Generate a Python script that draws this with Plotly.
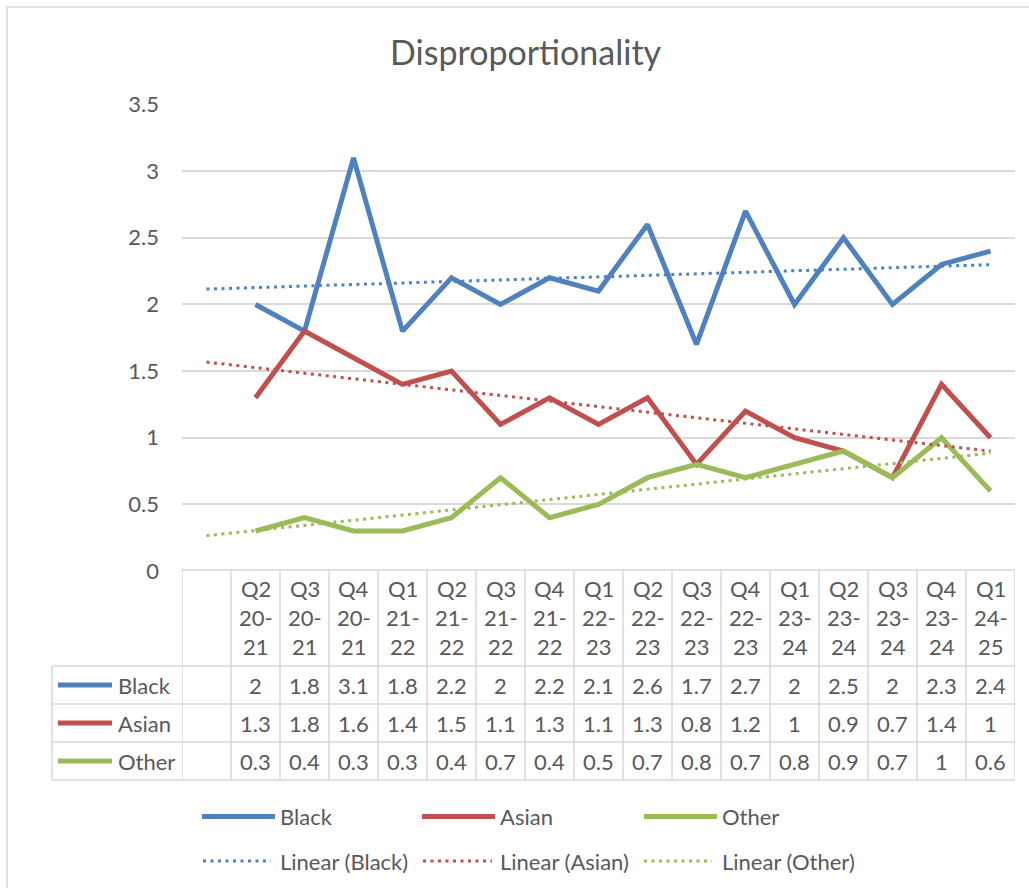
import numpy as np
import plotly.graph_objects as go

# ---------------- data ----------------
categories = ["", "Q2 20-21", "Q3 20-21", "Q4 20-21", "Q1 21-22", "Q2 21-22", "Q3 21-22",
              "Q4 21-22", "Q1 22-23", "Q2 22-23", "Q3 22-23", "Q4 22-23", "Q1 23-24",
              "Q2 23-24", "Q3 23-24", "Q4 23-24", "Q1 24-25"]
black = [None, 2, 1.8, 3.1, 1.8, 2.2, 2, 2.2, 2.1, 2.6, 1.7, 2.7, 2, 2.5, 2, 2.3, 2.4]
asian = [None, 1.3, 1.8, 1.6, 1.4, 1.5, 1.1, 1.3, 1.1, 1.3, 0.8, 1.2, 1, 0.9, 0.7, 1.4, 1]
other = [None, 0.3, 0.4, 0.3, 0.3, 0.4, 0.7, 0.4, 0.5, 0.7, 0.8, 0.7, 0.8, 0.9, 0.7, 1, 0.6]
series_names = ["Black", "Asian", "Other"]
y_ticks = [0, 0.5, 1, 1.5, 2, 2.5, 3, 3.5]
title_text = "Disproportionality"

# ---------------- style ----------------
W, H = 1029, 888
COLORS = {"Black": "#4F81BD", "Asian": "#C0504D", "Other": "#9BBB59"}
TXT = "#595959"
GRID = "#D9D9D9"
FONT = "Lato, Carlito, Calibri, sans-serif"
FS = 22
DOT = "3px,4.5px"


def X(px):
    return px / W


def Y(py):
    return (H - py) / H


series = {"Black": black, "Asian": asian, "Other": other}
xs = list(range(len(categories)))

fig = go.Figure()

# main lines
for name in series_names:
    vals = series[name]
    fig.add_trace(go.Scatter(x=xs, y=vals, mode="lines", name=name,
                             line=dict(color=COLORS[name], width=5),
                             connectgaps=False, showlegend=False))

# linear trendlines (least squares, as Excel does)
for name in series_names:
    vals = series[name]
    px_ = [i for i, v in enumerate(vals) if v is not None]
    py_ = [v for v in vals if v is not None]
    m, b = np.polyfit(px_, py_, 1)
    tx = [xs[0], xs[-1]]
    fig.add_trace(go.Scatter(x=tx, y=[m * t + b for t in tx], mode="lines",
                             name="Linear (%s)" % name,
                             line=dict(color=COLORS[name], width=3, dash=DOT),
                             showlegend=False))

shapes = []
annotations = []

# chart border
shapes.append(dict(type="rect", xref="paper", yref="paper", x0=X(7), x1=X(W + 20),
                   y0=Y(H + 20), y1=Y(7), line=dict(color=GRID, width=1.5)))

# title
annotations.append(dict(text=title_text, xref="paper", yref="paper", x=X(525.5), y=Y(52),
                        xanchor="center", yanchor="middle", showarrow=False,
                        font=dict(family=FONT, size=34, color=TXT)))

# ---------------- data table ----------------
T_TOP, T_HEAD, T_BOT = 570, 666, 780
row_bounds = [666, 704, 742, 780]
T_LEFT = 52
n = len(categories)
for k in range(n + 1):
    shapes.append(dict(type="line", xref="x", yref="paper", x0=k - 0.5, x1=k - 0.5,
                       y0=Y(T_TOP), y1=Y(T_BOT), line=dict(color=GRID, width=1.5)))
shapes.append(dict(type="line", xref="paper", yref="paper", x0=X(T_LEFT), x1=X(T_LEFT),
                   y0=Y(T_HEAD), y1=Y(T_BOT), line=dict(color=GRID, width=1.5)))
shapes.append(dict(type="line", xref="x", yref="paper", x0=-0.5, x1=n - 0.5,
                   y0=Y(T_TOP), y1=Y(T_TOP), line=dict(color=GRID, width=1.5)))
for rb in row_bounds:
    shapes.append(dict(type="line", xref="paper", yref="paper", x0=X(T_LEFT), x1=X(182),
                       y0=Y(rb), y1=Y(rb), line=dict(color=GRID, width=1.5)))
    shapes.append(dict(type="line", xref="x", yref="paper", x0=-0.5, x1=n - 0.5,
                       y0=Y(rb), y1=Y(rb), line=dict(color=GRID, width=1.5)))

# header labels (wrapped like Excel)
head_lines_y = [588, 617, 646]
for i, cat in enumerate(categories):
    if not cat:
        continue
    q, yr = cat.split(" ")
    a, b2 = yr.split("-")
    parts = [q, a + "-", b2]
    for part, py in zip(parts, head_lines_y):
        annotations.append(dict(text=part, xref="x", yref="paper", x=i, y=Y(py),
                                xanchor="center", yanchor="middle", showarrow=False,
                                font=dict(family=FONT, size=FS, color=TXT)))

# rows
for r, name in enumerate(series_names):
    cy = (row_bounds[r] + row_bounds[r + 1]) / 2
    shapes.append(dict(type="line", xref="paper", yref="paper", x0=X(58), x1=X(112),
                       y0=Y(cy), y1=Y(cy),
                       line=dict(color=COLORS[name], width=5)))
    annotations.append(dict(text=name, xref="paper", yref="paper", x=X(116), y=Y(cy),
                            xanchor="left", yanchor="middle", showarrow=False,
                            font=dict(family=FONT, size=FS, color=TXT)))
    for i, v in enumerate(series[name]):
        if v is None:
            continue
        annotations.append(dict(text=f"{v:g}", xref="x", yref="paper", x=i, y=Y(cy),
                                xanchor="center", yanchor="middle", showarrow=False,
                                font=dict(family=FONT, size=FS, color=TXT)))

# ---------------- legend ----------------
leg_solid = [(202, 275, 278), (422, 495, 498), (644, 717, 720)]
leg_dot = [(203, 271, 278), (423, 492, 498), (644, 712, 720)]
ROW1, ROW2 = 816.5, 861
for (x0, x1, tx), (d0, d1, dx), name in zip(leg_solid, leg_dot, series_names):
    shapes.append(dict(type="line", xref="paper", yref="paper", x0=X(x0), x1=X(x1),
                       y0=Y(ROW1), y1=Y(ROW1), line=dict(color=COLORS[name], width=5)))
    annotations.append(dict(text=name, xref="paper", yref="paper", x=X(tx), y=Y(ROW1),
                            xanchor="left", yanchor="middle", showarrow=False,
                            font=dict(family=FONT, size=FS, color=TXT)))
    shapes.append(dict(type="line", xref="paper", yref="paper", x0=X(d0), x1=X(d1),
                       y0=Y(ROW2), y1=Y(ROW2),
                       line=dict(color=COLORS[name], width=3, dash=DOT)))
    annotations.append(dict(text="Linear (%s)" % name, xref="paper", yref="paper",
                            x=X(dx), y=Y(ROW2), xanchor="left", yanchor="middle",
                            showarrow=False, font=dict(family=FONT, size=FS, color=TXT)))

fig.update_layout(
    width=W, height=H, margin=dict(l=0, r=0, t=0, b=0, pad=0, autoexpand=False),
    paper_bgcolor="white", plot_bgcolor="white",
    showlegend=False,
    shapes=shapes, annotations=annotations,
    xaxis=dict(domain=[X(182), X(1015)], range=[-0.5, n - 0.5], showticklabels=False,
               showgrid=False, zeroline=False, showline=False, ticks="", automargin=False),
    yaxis=dict(domain=[Y(571), Y(104.5)], range=[0, 3.5], tickvals=y_ticks,
               showgrid=True, gridcolor=GRID, gridwidth=1.5, zeroline=False,
               showline=False, ticks="", ticklabelstandoff=22, automargin=False,
               tickfont=dict(family=FONT, size=FS, color=TXT)),
)

fig.write_html("out.html")
